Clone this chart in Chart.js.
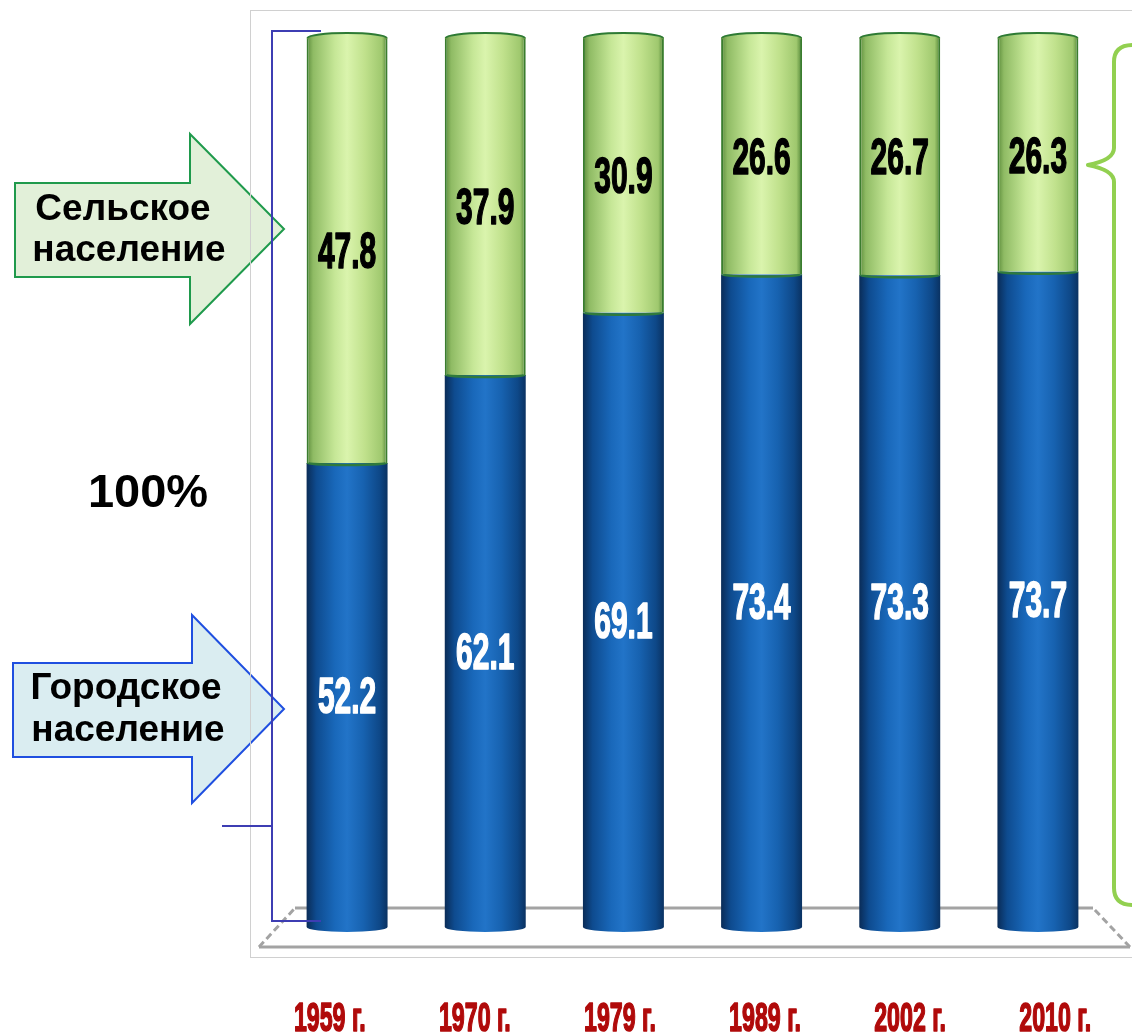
<!DOCTYPE html>
<html>
<head>
<meta charset="utf-8">
<title>Городское и сельское население</title>
<script src="https://cdn.jsdelivr.net/npm/chart.js@4.4.1/dist/chart.umd.min.js"></script>
<style>
  html, body { margin: 0; padding: 0; background: #fff; }
  #wrap { position: relative; width: 1132px; height: 1032px; }
</style>
</head>
<body>
<div id="wrap"><canvas id="chartpop" width="1132" height="1032"></canvas></div>
<script>
// Données : part de la population, %
const years = ['1959 г.', '1970 г.', '1979 г.', '1989 г.', '2002 г.', '2010 г.'];
const urban = [52.2, 62.1, 69.1, 73.4, 73.3, 73.7]; // городское население
const rural = [47.8, 37.9, 30.9, 26.6, 26.7, 26.3]; // сельское население

const BAR_PCT = 0.586;
const RY = 5; // hauteur de l'ellipse des cylindres

const blueStops = [[0, '#0a2c57'], [0.12, '#0e4b8f'], [0.35, '#1968ba'], [0.5, '#2274c8'], [0.7, '#1762b0'], [0.9, '#0e4888'], [1, '#0a3262']];
const greenStops = [[0, '#5a8a3a'], [0.08, '#8fbb64'], [0.35, '#c6e797'], [0.5, '#daf4ad'], [0.72, '#c0e18c'], [0.93, '#9fc86e'], [1, '#4f8334']];

// dégradé horizontal pour l'effet cylindre
function cylGrad(c, stops) {
  const chart = c.chart;
  const xs = chart.scales.x;
  if (!xs || !chart.chartArea) return stops[3][1];
  const cx = xs.getPixelForValue(c.dataIndex);
  const w = (xs.width / years.length) * BAR_PCT;
  const g = chart.ctx.createLinearGradient(cx - w / 2, 0, cx + w / 2, 0);
  stops.forEach(s => g.addColorStop(s[0], s[1]));
  return g;
}

function arrow(ctx, x0, y0, y1, xs, yh0, yh1, tip, fill, stroke) {
  const ym = (yh0 + yh1) / 2;
  ctx.beginPath();
  ctx.moveTo(x0, y0);
  ctx.lineTo(xs, y0);
  ctx.lineTo(xs, yh0);
  ctx.lineTo(tip, ym);
  ctx.lineTo(xs, yh1);
  ctx.lineTo(xs, y1);
  ctx.lineTo(x0, y1);
  ctx.closePath();
  ctx.fillStyle = fill;
  ctx.fill();
  ctx.lineWidth = 2;
  ctx.strokeStyle = stroke;
  ctx.stroke();
}

// flèches, cadre et sol
const decoBack = {
  id: 'decoBack',
  beforeDraw(chart) {
    const ctx = chart.ctx;
    ctx.save();
    arrow(ctx, 15, 183, 277, 190, 134, 324, 284, '#e2f0d9', '#1f9a4c');
    arrow(ctx, 13, 663, 757, 192, 615, 803, 284, '#daedf1', '#1f4fe0');

    ctx.fillStyle = '#000';
    ctx.font = 'bold 37px "Liberation Sans", Arial, sans-serif';
    ctx.textAlign = 'center';
    ctx.textBaseline = 'middle';
    ctx.fillText('Сельское', 123, 210);
    ctx.fillText('население', 129, 251);
    ctx.fillText('Городское', 126, 689);
    ctx.fillText('население', 128, 731);
    ctx.font = 'bold 47px "Liberation Sans", Arial, sans-serif';
    ctx.fillText('100%', 148, 494);

    // cadre gris
    ctx.strokeStyle = '#d0d0d0';
    ctx.lineWidth = 1;
    ctx.strokeRect(250.5, 10.5, 900, 947);

    // sol en perspective
    ctx.strokeStyle = '#a3a3a3';
    ctx.lineWidth = 3;
    ctx.beginPath();
    ctx.moveTo(295, 908); ctx.lineTo(1093, 908);
    ctx.moveTo(259, 947); ctx.lineTo(1130, 947);
    ctx.stroke();
    ctx.setLineDash([7, 4]);
    ctx.beginPath();
    ctx.moveTo(259, 947); ctx.lineTo(295, 908);
    ctx.moveTo(1130, 947); ctx.lineTo(1093, 908);
    ctx.stroke();
    ctx.restore();
  }
};

// bases et sommets des cylindres
const cylinderCaps = {
  id: 'cylinderCaps',
  afterDatasetsDraw(chart) {
    const ctx = chart.ctx;
    const low = chart.getDatasetMeta(0).data;
    const up = chart.getDatasetMeta(1).data;
    ctx.save();
    low.forEach((bar, i) => {
      const x = bar.x, w = bar.width;
      ctx.fillStyle = bar.options.backgroundColor;
      ctx.beginPath();
      ctx.ellipse(x, bar.base, w / 2, RY, 0, 0, Math.PI);
      ctx.fill();

      const top = up[i];
      // jonction bleu / vert
      ctx.strokeStyle = '#2f7a3c';
      ctx.lineWidth = 2.5;
      ctx.beginPath();
      ctx.ellipse(x, top.base, w / 2 - 1, 2, 0, 0, Math.PI);
      ctx.stroke();

      // dessus vert
      ctx.fillStyle = top.options.backgroundColor;
      ctx.beginPath();
      ctx.ellipse(x, top.y, w / 2, RY, 0, 0, Math.PI * 2);
      ctx.fill();
      ctx.strokeStyle = '#2d7a34';
      ctx.lineWidth = 2;
      ctx.beginPath();
      ctx.ellipse(x, top.y, w / 2 - 1, RY, 0, Math.PI, Math.PI * 2);
      ctx.stroke();
    });
    ctx.restore();
  }
};

// texte bold resserré horizontalement (un léger contour l'épaissit)
function narrowText(ctx, txt, x, y, size, sx) {
  ctx.save();
  ctx.translate(x, y);
  ctx.scale(sx, 1);
  ctx.font = 'bold ' + size + 'px "Liberation Sans", Arial, sans-serif';
  ctx.strokeStyle = ctx.fillStyle;
  ctx.lineWidth = 1.6;
  ctx.lineJoin = 'round';
  ctx.strokeText(txt, 0, 0);
  ctx.fillText(txt, 0, 0);
  ctx.restore();
}

// valeurs, années, accolades
const decoFront = {
  id: 'decoFront',
  afterDraw(chart) {
    const ctx = chart.ctx;
    ctx.save();
    ctx.textAlign = 'center';
    ctx.textBaseline = 'middle';
    chart.data.datasets.forEach((ds, d) => {
      chart.getDatasetMeta(d).data.forEach((bar, i) => {
        ctx.fillStyle = d === 0 ? '#ffffff' : '#000000';
        narrowText(ctx, ds.data[i].toFixed(1), bar.x, (bar.y + bar.base) / 2 + 4, 50, 0.6);
      });
    });

    // années, un peu plus espacées que les barres
    const xs = chart.scales.x;
    const mid = (chart.chartArea.left + chart.chartArea.right) / 2;
    ctx.fillStyle = '#b00a0a';
    ctx.textBaseline = 'alphabetic';
    years.forEach((lab, i) => {
      const px = mid + (xs.getPixelForValue(i) - mid) * 1.05;
      narrowText(ctx, lab, px, 1031, 40, 0.58);
    });

    // crochet bleu à gauche
    ctx.strokeStyle = '#3d3db3';
    ctx.lineWidth = 2;
    ctx.beginPath();
    ctx.moveTo(321, 31); ctx.lineTo(272, 31); ctx.lineTo(272, 921); ctx.lineTo(321, 921);
    ctx.moveTo(222, 826); ctx.lineTo(272, 826);
    ctx.stroke();

    // accolade verte à droite
    ctx.strokeStyle = '#92d050';
    ctx.lineWidth = 4;
    ctx.lineJoin = 'round';
    ctx.beginPath();
    ctx.moveTo(1133, 45);
    ctx.quadraticCurveTo(1114, 45, 1114, 62);
    ctx.lineTo(1114, 148);
    ctx.quadraticCurveTo(1114, 160, 1088, 165);
    ctx.quadraticCurveTo(1114, 170, 1114, 182);
    ctx.lineTo(1114, 888);
    ctx.quadraticCurveTo(1114, 905, 1133, 905);
    ctx.stroke();
    ctx.restore();
  }
};

const ctx = document.getElementById('chartpop');

new Chart(ctx, {
  type: 'bar',
  data: {
    labels: years,
    datasets: [{
      label: 'Городское население',
      data: urban,
      backgroundColor: c => cylGrad(c, blueStops),
      borderWidth: 0,
      barPercentage: BAR_PCT,
      categoryPercentage: 1
    }, {
      label: 'Сельское население',
      data: rural,
      backgroundColor: c => cylGrad(c, greenStops),
      borderColor: '#3a7d2e',
      borderWidth: { left: 2, right: 2, top: 0, bottom: 0 },
      borderSkipped: false,
      barPercentage: BAR_PCT,
      categoryPercentage: 1
    }]
  },
  options: {
    responsive: false,
    animation: false,
    layout: { padding: { left: 278, right: 25, top: 38, bottom: 105 } },
    plugins: { legend: { display: false }, tooltip: { enabled: false } },
    scales: {
      x: { stacked: true, display: false },
      y: { stacked: true, display: false, min: 0, max: 100 }
    }
  },
  plugins: [decoBack, cylinderCaps, decoFront]
});
</script>
</body>
</html>
